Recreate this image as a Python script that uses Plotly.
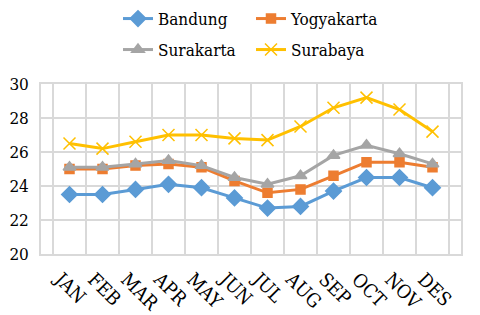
import plotly.graph_objects as go

months = ["JAN", "FEB", "MAR", "APR", "MAY", "JUN", "JUL", "AUG", "SEP", "OCT", "NOV", "DES"]
bandung = [23.5, 23.5, 23.8, 24.1, 23.9, 23.3, 22.7, 22.8, 23.7, 24.5, 24.5, 23.9]
yogyakarta = [25.0, 25.0, 25.2, 25.3, 25.1, 24.3, 23.6, 23.8, 24.6, 25.4, 25.4, 25.1]
surakarta = [25.1, 25.1, 25.3, 25.5, 25.2, 24.5, 24.1, 24.6, 25.8, 26.4, 25.9, 25.3]
surabaya = [26.5, 26.2, 26.6, 27.0, 27.0, 26.8, 26.7, 27.5, 28.6, 29.2, 28.5, 27.2]
y_ticks = [20, 22, 24, 26, 28, 30]

font = "DejaVu Serif Condensed, DejaVu Serif"

fig = go.Figure()
series = [
    ("Bandung", bandung, "#5B9BD5", "diamond", 12, "legend"),
    ("Yogyakarta", yogyakarta, "#ED7D31", "square", 9, "legend"),
    ("Surakarta", surakarta, "#A5A5A5", "triangle-up", 11, "legend2"),
    ("Surabaya", surabaya, "#FFC000", "x-thin", 12, "legend2"),
]
for name, vals, color, sym, size, lg in series:
    fig.add_trace(go.Scatter(
        x=months, y=vals, name=name, mode="lines+markers",
        line=dict(color=color, width=3),
        marker=dict(symbol=sym, size=size, color=color,
                    line=dict(color=color, width=1.5)),
        legend=lg,
    ))

leg = dict(orientation="h", xanchor="left", yanchor="middle",
           xref="container", yref="container", entrywidth=88,
           font=dict(family=font, size=17), itemwidth=30, tracegroupgap=0)

fig.update_layout(
    width=480, height=315,
    margin=dict(l=33, r=27, t=76, b=69, autoexpand=False),
    paper_bgcolor="white", plot_bgcolor="white",
    font=dict(family=font, size=17, color="#000000"),
    legend=dict(leg, x=110 / 480, y=1 - 11 / 315),
    legend2=dict(leg, x=110 / 480, y=1 - 42 / 315),
    xaxis=dict(type="category", tickson="boundaries", showgrid=True,
               gridcolor="#D9D9D9", gridwidth=1.5, tickangle=45,
               showline=True, linecolor="#D9D9D9", linewidth=1.5, mirror=True,
               ticks="", tickfont=dict(family=font, size=19), automargin=False,
               ticklabelshift=-9, ticklabelstandoff=5),
    yaxis=dict(range=[20, 30], tickvals=y_ticks, showgrid=True,
               gridcolor="#D9D9D9", gridwidth=1.5, zeroline=False,
               showline=True, linecolor="#D9D9D9", linewidth=1.5, mirror=True,
               ticks="", tickfont=dict(family=font, size=17), automargin=False,
               ticklabelstandoff=7),
)

fig.write_html("out.html")
